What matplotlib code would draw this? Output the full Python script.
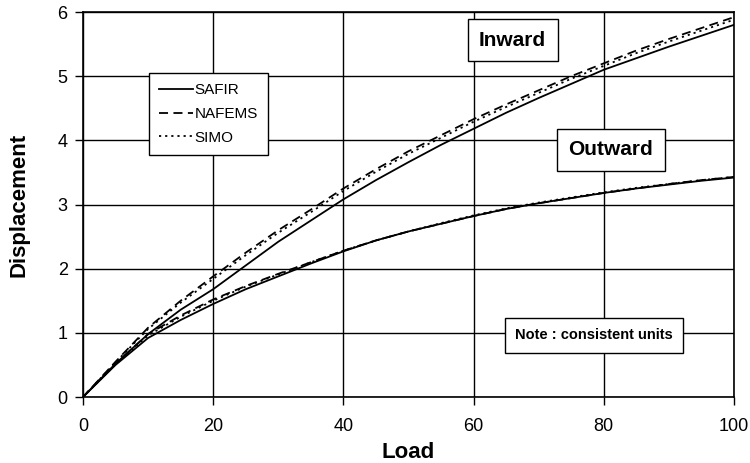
import matplotlib
matplotlib.use("Agg")
import matplotlib.pyplot as plt

# data
load = [0, 5, 10, 15, 20, 25, 30, 35, 40, 45, 50, 55, 60, 65, 70, 75, 80, 85, 90, 95, 100]

in_safir = [0, 0.52, 0.98, 1.36, 1.68, 2.05, 2.42, 2.75, 3.08, 3.38, 3.66, 3.93, 4.18, 4.43, 4.66, 4.88, 5.10, 5.28, 5.46, 5.63, 5.80]
in_nafems = [0, 0.55, 1.08, 1.50, 1.88, 2.25, 2.60, 2.92, 3.25, 3.55, 3.83, 4.08, 4.33, 4.56, 4.78, 5.00, 5.20, 5.40, 5.58, 5.75, 5.92]
in_simo = [0, 0.54, 1.06, 1.47, 1.84, 2.21, 2.56, 2.88, 3.21, 3.51, 3.79, 4.04, 4.29, 4.52, 4.74, 4.96, 5.16, 5.36, 5.54, 5.71, 5.88]

out_safir = [0, 0.50, 0.92, 1.20, 1.45, 1.68, 1.88, 2.08, 2.27, 2.44, 2.58, 2.70, 2.82, 2.93, 3.02, 3.10, 3.18, 3.25, 3.31, 3.37, 3.42]
out_nafems = [0, 0.52, 0.98, 1.27, 1.52, 1.73, 1.92, 2.10, 2.28, 2.44, 2.58, 2.70, 2.82, 2.93, 3.02, 3.10, 3.18, 3.25, 3.32, 3.38, 3.43]
out_simo = [0, 0.51, 0.96, 1.25, 1.50, 1.72, 1.91, 2.10, 2.28, 2.44, 2.58, 2.71, 2.83, 2.94, 3.03, 3.11, 3.19, 3.26, 3.32, 3.38, 3.43]

xticks = [0, 20, 40, 60, 80, 100]
yticks = [0, 1, 2, 3, 4, 5, 6]

plt.rcParams["font.family"] = ["Liberation Sans", "DejaVu Sans"]

fig = plt.figure(figsize=(7.5, 4.63), dpi=100)
# axes box: x 83..734 px, y 12..397 px
ax = fig.add_axes([83 / 750, 1 - 397 / 463, 651 / 750, 385 / 463])

lw = 1.3
dash = (0, (5, 3))
dot = (0, (1.2, 2.2))

ax.plot(load, in_safir, color="black", lw=lw, label="SAFIR")
ax.plot(load, in_nafems, color="black", lw=lw, ls=dash, label="NAFEMS")
ax.plot(load, in_simo, color="black", lw=lw, ls=dot, label="SIMO")
ax.plot(load, out_safir, color="black", lw=lw)
ax.plot(load, out_nafems, color="black", lw=lw, ls=dash)
ax.plot(load, out_simo, color="black", lw=lw, ls=dot)

ax.set_xlim(0, 100)
ax.set_ylim(0, 6)
ax.set_xticks(xticks)
ax.set_yticks(yticks)
ax.grid(True, color="black", lw=1.0)
for s in ax.spines.values():
    s.set_linewidth(1.2)
ax.tick_params(direction="out", length=6, width=1.0, labelsize=13)
ax.tick_params(axis="x", pad=9)
ax.tick_params(axis="y", pad=5)

ax.set_xlabel("Load", fontsize=16, fontweight="bold", labelpad=5)
ax.set_ylabel("Displacement", fontsize=16, fontweight="bold", labelpad=20)

leg = ax.legend(loc="upper left", bbox_to_anchor=(66 / 651, 324 / 385), borderaxespad=0,
                fontsize=11, handlelength=2.2, handletextpad=0.15,
                borderpad=0.65, labelspacing=0.65, fancybox=False, framealpha=1, edgecolor="black")
leg.get_frame().set_linewidth(1.0)

box = dict(boxstyle="square,pad=0.55", facecolor="white", edgecolor="black", lw=1.0)
ax.text(66.0, 5.56, "Inward", fontsize=15, fontweight="bold", ha="center", va="center", bbox=box)
ax.text(81.1, 3.85, "Outward", fontsize=15, fontweight="bold", ha="center", va="center", bbox=box)
ax.text(78.5, 0.96, "Note : consistent units", fontsize=10.5, fontweight="bold", ha="center", va="center",
        bbox=dict(boxstyle="square,pad=0.7", facecolor="white", edgecolor="black", lw=1.0))

fig.savefig("out.png", dpi=100)
